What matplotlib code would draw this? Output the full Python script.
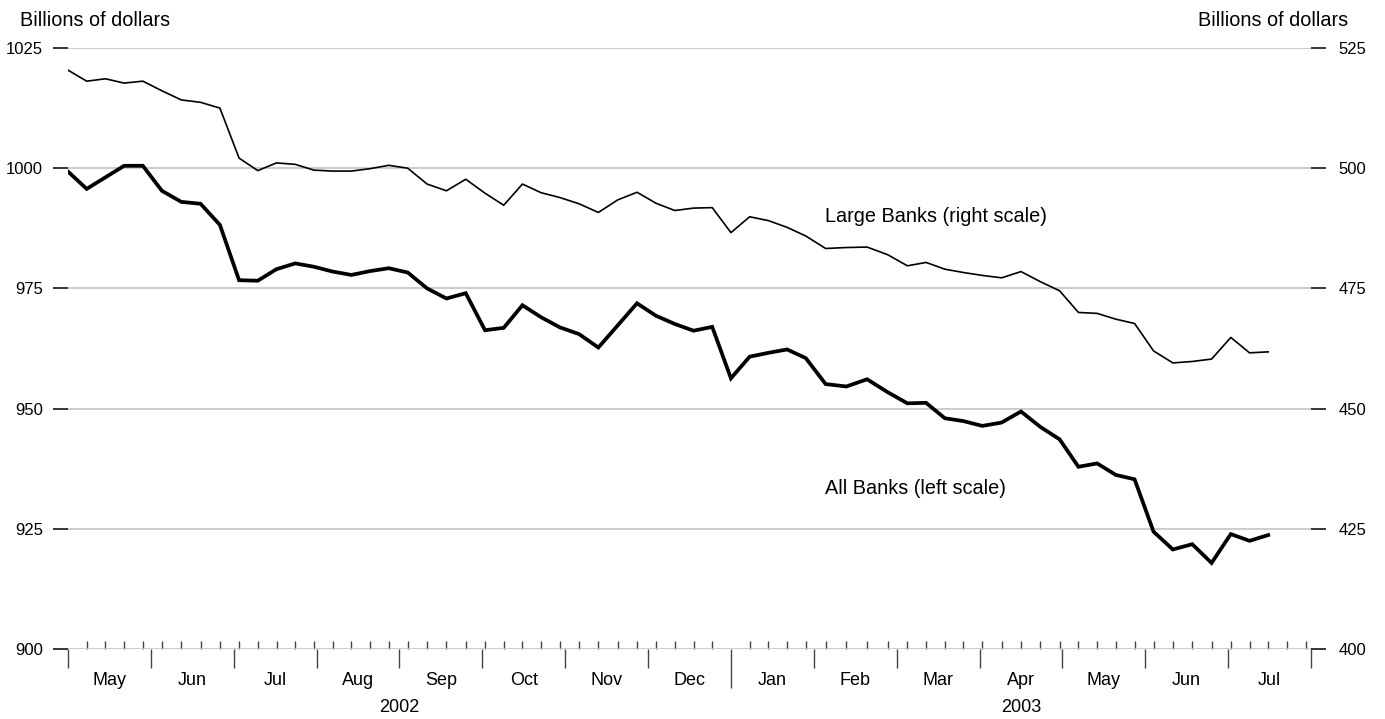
import calendar
import numpy as np
import pandas as pd
import matplotlib
matplotlib.use("Agg")
import matplotlib.pyplot as plt
import matplotlib.transforms as mtransforms

plt.rcParams['font.family'] = ['Liberation Sans', 'DejaVu Sans']

# weekly (Wednesday) observations, May 1 2002 - Jul 16 2003
weeks = pd.date_range('2002-05-01', periods=64, freq='7D')

# All banks, billions of dollars (left scale)
all_banks = [
    999.3, 995.7, 998.1, 1000.5, 1000.5, 995.3, 993.0, 992.6, 988.2, 976.7,
    976.6, 979.0, 980.2, 979.5, 978.5, 977.8, 978.6, 979.2, 978.3, 975.0,
    972.9, 974.0, 966.3, 966.8, 971.5, 969.0, 966.9, 965.5, 962.7, 967.3,
    971.9, 969.3, 967.6, 966.2, 967.0, 956.3, 960.8, 961.6, 962.3, 960.5,
    955.1, 954.6, 956.1, 953.4, 951.1, 951.2, 948.0, 947.4, 946.4, 947.1,
    949.4, 946.2, 943.6, 937.9, 938.6, 936.2, 935.3, 924.4, 920.7, 921.8,
    917.9, 923.9, 922.5, 923.7,
]

# Large banks, billions of dollars (right scale)
large_banks = [
    520.4, 518.1, 518.6, 517.7, 518.1, 516.1, 514.2, 513.7, 512.5, 502.1,
    499.5, 501.1, 500.8, 499.6, 499.4, 499.4, 499.9, 500.6, 500.0, 496.7,
    495.3, 497.7, 494.8, 492.3, 496.7, 494.9, 493.9, 492.6, 490.8, 493.4,
    495.0, 492.7, 491.2, 491.7, 491.8, 486.6, 489.9, 489.1, 487.7, 485.9,
    483.3, 483.5, 483.6, 482.0, 479.7, 480.4, 479.0, 478.3, 477.7, 477.2,
    478.5, 476.4, 474.5, 470.0, 469.8, 468.6, 467.7, 462.0, 459.5, 459.8,
    460.3, 464.8, 461.6, 461.8,
]

left_ticks = [900, 925, 950, 975, 1000, 1025]
right_ticks = [400, 425, 450, 475, 500, 525]
month_names = ['May', 'Jun', 'Jul', 'Aug', 'Sep', 'Oct', 'Nov', 'Dec',
               'Jan', 'Feb', 'Mar', 'Apr', 'May', 'Jun', 'Jul']


def month_pos(d):
    # every month gets the same width; days are spread inside their month
    d = pd.Timestamp(d)
    idx = (d.year - 2002) * 12 + d.month - 5
    ndays = calendar.monthrange(d.year, d.month)[1]
    return idx + (d.day - 1) / ndays


W, H = 1385, 719
fig = plt.figure(figsize=(W / 100, H / 100), dpi=100)
ax = fig.add_axes([68 / W, 1 - 649 / H, (1311 - 68) / W, (649 - 48) / H])
ax2 = ax.twinx()

xs = [month_pos(d) for d in weeks]
ax.plot(xs, all_banks, color='black', lw=2.7, solid_joinstyle='miter', zorder=3)
ax2.plot(xs, large_banks, color='black', lw=1.2, zorder=3)

ax.set_xlim(0, len(month_names))
ax.set_ylim(900, 1025)
ax2.set_ylim(400, 525)

for a in (ax, ax2):
    for s in a.spines.values():
        s.set_visible(False)

ax.set_yticks(left_ticks)
ax2.set_yticks(right_ticks)
ax.grid(axis='y', color='#c4c4c4', lw=1.2, zorder=0)
ax.tick_params(axis='y', direction='out', length=11, width=1.1, pad=7,
               labelsize=12, color='black')
ax2.tick_params(axis='y', direction='out', length=11, width=1.1, pad=9,
                labelsize=12, color='black')

# month ticks below, weekly ticks above
month_starts = np.arange(len(month_names) + 1)
ax.set_xticks(month_starts)
wk_ticks = pd.date_range('2002-05-08', '2003-07-30', freq='7D')
ax.set_xticks([month_pos(d) for d in wk_ticks], minor=True)
ax.tick_params(axis='x', which='major', direction='out', length=14, width=1.0,
               color='#444444', labelbottom=False)
ax.tick_params(axis='x', which='minor', direction='in', length=6, width=1.0,
               color='#444444')
ax.xaxis.get_major_ticks()[8].tick1line.set_markersize(28)

trans = mtransforms.blended_transform_factory(ax.transData, ax.transAxes)
for i, name in enumerate(month_names):
    ax.text(i + 0.5, -0.052, name, transform=trans, ha='center', va='center', fontsize=13)

ax.text(4, -0.097, '2002', transform=trans, ha='center', va='center', fontsize=13)
ax.text(11.5, -0.097, '2003', transform=trans, ha='center', va='center', fontsize=13)

fig.text(20 / W, 1 - 20 / H, 'Billions of dollars', ha='left', va='center', fontsize=14.3)
fig.text(1348 / W, 1 - 20 / H, 'Billions of dollars', ha='right', va='center', fontsize=14.3)
fig.text(825 / W, 1 - 216 / H, 'Large Banks (right scale)', ha='left', va='center', fontsize=14.3)
fig.text(825 / W, 1 - 489 / H, 'All Banks (left scale)', ha='left', va='center', fontsize=14.3)

fig.savefig('out.png', dpi=100)
